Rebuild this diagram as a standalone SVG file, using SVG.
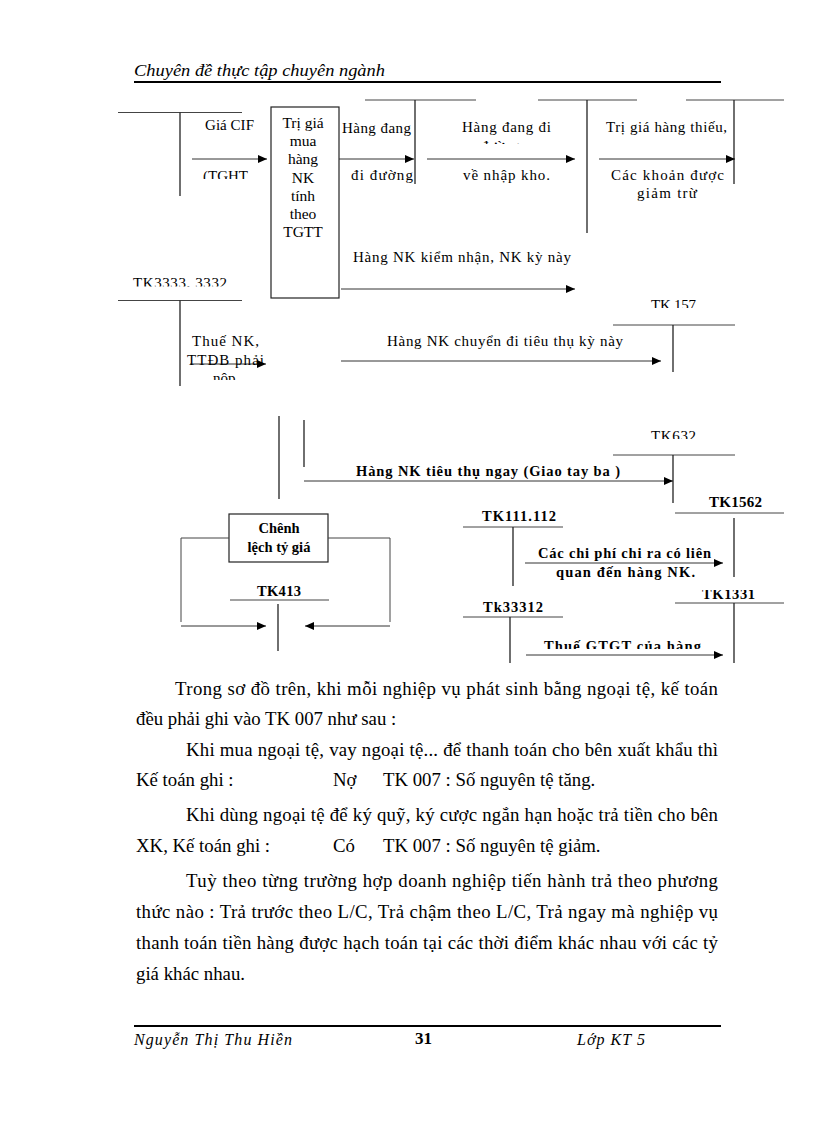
<svg xmlns="http://www.w3.org/2000/svg" width="816" height="1123" viewBox="0 0 816 1123">
<style>
.t{font-family:"Liberation Serif","Times New Roman",serif;font-size:15px;fill:#000}
.b{font-weight:bold;font-size:14.5px}
.c{text-anchor:middle}
.bx{font-size:15.5px}
.p{font-size:18.8px}
.i{font-style:italic;font-size:16px}
.h{stroke:#444;stroke-width:1;fill:none}
.v{stroke:#222;stroke-width:1.3;fill:none}
.a{stroke:#333;stroke-width:1;fill:none;marker-end:url(#ah)}
.k{stroke:#000;stroke-width:2}
</style>
<defs>
<marker id="ah" markerUnits="userSpaceOnUse" markerWidth="9" markerHeight="8" refX="9" refY="4" orient="auto">
<path d="M0,0 L9,4 L0,8 z" fill="#000"/>
</marker>
<clipPath id="c1"><rect x="190" y="160" width="80" height="19"/></clipPath>
<clipPath id="c2"><rect x="440" y="136" width="140" height="8"/></clipPath>
<clipPath id="c3"><rect x="120" y="260" width="130" height="26.5"/></clipPath>
<clipPath id="c4"><rect x="630" y="290" width="80" height="18"/></clipPath>
<clipPath id="c5"><rect x="180" y="368" width="90" height="12"/></clipPath>
<clipPath id="c6"><rect x="630" y="420" width="80" height="19"/></clipPath>
<clipPath id="c7"><rect x="690" y="590" width="80" height="12"/></clipPath>
<clipPath id="c8"><rect x="530" y="630" width="190" height="19"/></clipPath>
</defs>
<rect width="816" height="1123" fill="#fff"/>

<g id="header">
<text class="t i" x="134" y="76" textLength="251" lengthAdjust="spacingAndGlyphs">Chuyên đề thực tập chuyên ngành</text>
<line class="k" x1="134" y1="82" x2="721" y2="82"/>
</g>

<g id="n-tk-cif">
<line class="h" x1="118" y1="112.5" x2="242" y2="112.5"/>
<line class="v" x1="180" y1="112.5" x2="180" y2="196"/>
</g>

<g id="n-box-trigia">
<rect x="271" y="107" width="68" height="191" fill="none" stroke="#222" stroke-width="1.2"/>
<text class="t bx c" x="303" y="128">Trị giá</text>
<text class="t bx c" x="303" y="146">mua</text>
<text class="t bx c" x="303" y="164">hàng</text>
<text class="t bx c" x="303" y="183">NK</text>
<text class="t bx c" x="303" y="201">tính</text>
<text class="t bx c" x="303" y="219">theo</text>
<text class="t bx c" x="303" y="237">TGTT</text>
</g>

<g id="n-tk-hangdiduong">
<line class="h" x1="365" y1="100" x2="476" y2="100"/>
<line class="v" x1="415" y1="100" x2="415" y2="184"/>
</g>

<g id="n-tk-nhapkho">
<line class="h" x1="538" y1="100" x2="637" y2="100"/>
<line class="v" x1="587" y1="100" x2="587" y2="233"/>
</g>

<g id="n-tk-giamtru">
<line class="h" x1="686" y1="100" x2="784" y2="100"/>
<line class="v" x1="734" y1="100" x2="734" y2="184"/>
</g>

<g id="n-tk3333">
<text class="t" x="133" y="288" clip-path="url(#c3)" textLength="94" lengthAdjust="spacing">TK3333, 3332</text>
<line class="h" x1="118" y1="300.5" x2="242" y2="300.5"/>
<line class="v" x1="180" y1="300.5" x2="180" y2="386"/>
</g>

<g id="n-tk157">
<text class="t" x="651" y="309.5" clip-path="url(#c4)" textLength="45" lengthAdjust="spacing">TK 157</text>
<line class="h" x1="613" y1="325" x2="735" y2="325"/>
<line class="v" x1="673" y1="325" x2="673" y2="372"/>
</g>

<g id="n-tk-trunggian">
<line class="v" x1="279" y1="416" x2="279" y2="499"/>
<line class="v" x1="304" y1="420" x2="304" y2="467"/>
</g>

<g id="n-tk632">
<text class="t" x="651" y="440.5" clip-path="url(#c6)" textLength="45" lengthAdjust="spacing">TK632</text>
<line class="h" x1="613" y1="455" x2="735" y2="455"/>
<line class="v" x1="673" y1="455" x2="673" y2="503"/>
</g>

<g id="n-box-chenhlech">
<rect x="229" y="514" width="99" height="48" fill="none" stroke="#222" stroke-width="1.2"/>
<text class="t b c" x="279" y="533">Chênh</text>
<text class="t b c" x="279" y="552">lệch tỷ giá</text>
</g>

<g id="n-tk413">
<text class="t b c" x="279" y="596" textLength="44" lengthAdjust="spacing">TK413</text>
<line class="h" x1="230" y1="600" x2="329" y2="600"/>
<line class="v" x1="278" y1="604" x2="278" y2="651"/>
</g>

<g id="n-tk111">
<text class="t b" x="482" y="521" textLength="74" lengthAdjust="spacing">TK111.112</text>
<line class="h" x1="463" y1="527" x2="563" y2="527"/>
<line class="v" x1="513" y1="527" x2="513" y2="586"/>
</g>

<g id="n-tk1562">
<text class="t b" x="709" y="507" style="font-size:15px" textLength="53" lengthAdjust="spacing">TK1562</text>
<line class="h" x1="675" y1="513" x2="784" y2="513"/>
<line class="v" x1="734" y1="518" x2="734" y2="577"/>
</g>

<g id="n-tk33312">
<text class="t b" x="483" y="612" textLength="60" lengthAdjust="spacing">Tk33312</text>
<line class="h" x1="463" y1="617" x2="563" y2="617"/>
<line class="v" x1="510" y1="617" x2="510" y2="663"/>
</g>

<g id="n-tk1331">
<text class="t b" x="702" y="599" clip-path="url(#c7)" textLength="53" lengthAdjust="spacing">TK1331</text>
<line class="h" x1="675" y1="603" x2="784" y2="603"/>
<line class="v" x1="734" y1="603" x2="734" y2="663"/>
</g>

<g id="connectors">
<line class="a" x1="192" y1="159" x2="267" y2="159"/>
<text class="t" x="205" y="130" textLength="49" lengthAdjust="spacing">Giá CIF</text>
<text class="t" x="203" y="181" clip-path="url(#c1)">(TGHT</text>

<line class="a" x1="339" y1="159" x2="414" y2="159"/>
<text class="t" x="342" y="133" textLength="69" lengthAdjust="spacing">Hàng đang</text>
<text class="t" x="351" y="180" textLength="62" lengthAdjust="spacing">đi đường</text>

<line class="a" x1="427" y1="159" x2="575" y2="159"/>
<text class="t" x="462" y="132" textLength="89" lengthAdjust="spacing">Hàng đang đi</text>
<text class="t c" x="500" y="151" clip-path="url(#c2)">đường</text>
<text class="t" x="463" y="180" textLength="87" lengthAdjust="spacing">về nhập kho.</text>

<line class="a" x1="599" y1="159" x2="735" y2="159"/>
<text class="t" x="606" y="132" textLength="121" lengthAdjust="spacing">Trị giá hàng thiếu,</text>
<text class="t" x="611" y="180" textLength="113" lengthAdjust="spacing">Các khoản được</text>
<text class="t" x="637" y="198" textLength="60" lengthAdjust="spacing">giảm trừ</text>

<line class="a" x1="341" y1="289" x2="575" y2="289"/>
<text class="t" x="353" y="262" textLength="218" lengthAdjust="spacing">Hàng NK kiểm nhận, NK kỳ này</text>

<line class="a" x1="190" y1="364" x2="266" y2="364"/>
<text class="t" x="192" y="346" textLength="67" lengthAdjust="spacing">Thuế NK,</text>
<text class="t" x="187" y="365" textLength="77" lengthAdjust="spacing">TTĐB phải</text>
<text class="t" x="213" y="383" clip-path="url(#c5)">nộp</text>

<line class="a" x1="341" y1="361" x2="661" y2="361"/>
<text class="t" x="387" y="346" textLength="236" lengthAdjust="spacing">Hàng NK chuyển đi tiêu thụ kỳ này</text>

<line class="a" x1="304" y1="481" x2="673" y2="481"/>
<text class="t b" x="356" y="476" textLength="264" lengthAdjust="spacing">Hàng NK tiêu thụ ngay (Giao tay ba )</text>

<polyline class="h" points="229,538 181,538 181,622"/>
<line class="a" x1="181" y1="626" x2="266" y2="626"/>
<polyline class="h" points="328,538 390,538 390,622"/>
<line class="a" x1="390" y1="626" x2="305" y2="626"/>

<line class="a" x1="525" y1="563" x2="723" y2="563"/>
<text class="t b" x="538" y="558" textLength="173" lengthAdjust="spacing">Các chi phí chi ra có liên</text>
<text class="t b" x="556" y="577" textLength="139" lengthAdjust="spacing">quan đến hàng NK.</text>

<line class="a" x1="526" y1="655" x2="723" y2="655"/>
<text class="t b" x="544" y="651" clip-path="url(#c8)" textLength="157" lengthAdjust="spacing">Thuế GTGT của hàng</text>
</g>

<g id="body">
<text class="t p" x="175" y="695" textLength="543" lengthAdjust="spacing">Trong sơ đồ trên, khi mỗi nghiệp vụ phát sinh bằng ngoại tệ, kế toán</text>
<text class="t p" x="136" y="725">đều phải ghi vào TK 007 như sau :</text>
<text class="t p" x="186" y="756" textLength="532" lengthAdjust="spacing">Khi mua ngoại tệ, vay ngoại tệ... để thanh toán cho bên xuất khẩu thì</text>
<text class="t p" x="136" y="786">Kế toán ghi :</text>
<text class="t p" x="333" y="786">Nợ</text>
<text class="t p" x="383" y="786">TK 007 : Số nguyên tệ tăng.</text>
<text class="t p" x="186" y="821" textLength="532" lengthAdjust="spacing">Khi dùng ngoại tệ để ký quỹ, ký cược ngắn hạn hoặc trả tiền cho bên</text>
<text class="t p" x="136" y="852">XK, Kế toán ghi :</text>
<text class="t p" x="333" y="852">Có</text>
<text class="t p" x="383" y="852">TK 007 : Số nguyên tệ giảm.</text>
<text class="t p" x="186" y="887" textLength="532" lengthAdjust="spacing">Tuỳ theo từng trường hợp doanh nghiệp tiến hành trả theo phương</text>
<text class="t p" x="136" y="918" textLength="582" lengthAdjust="spacing">thức nào : Trả trước theo L/C, Trả chậm theo L/C, Trả ngay mà nghiệp vụ</text>
<text class="t p" x="136" y="949" textLength="582" lengthAdjust="spacing">thanh toán tiền hàng được hạch toán tại các thời điểm khác nhau với các tỷ</text>
<text class="t p" x="136" y="980">giá khác nhau.</text>
</g>

<g id="footer">
<line class="k" x1="134" y1="1026" x2="721" y2="1026"/>
<text class="t i" x="134" y="1045" textLength="158" lengthAdjust="spacing">Nguyễn Thị Thu Hiền</text>
<text class="t" x="415" y="1044" style="font-size:17px;font-weight:bold">31</text>
<text class="t i" x="577" y="1045" textLength="68" lengthAdjust="spacing">Lớp KT 5</text>
</g>
</svg>
